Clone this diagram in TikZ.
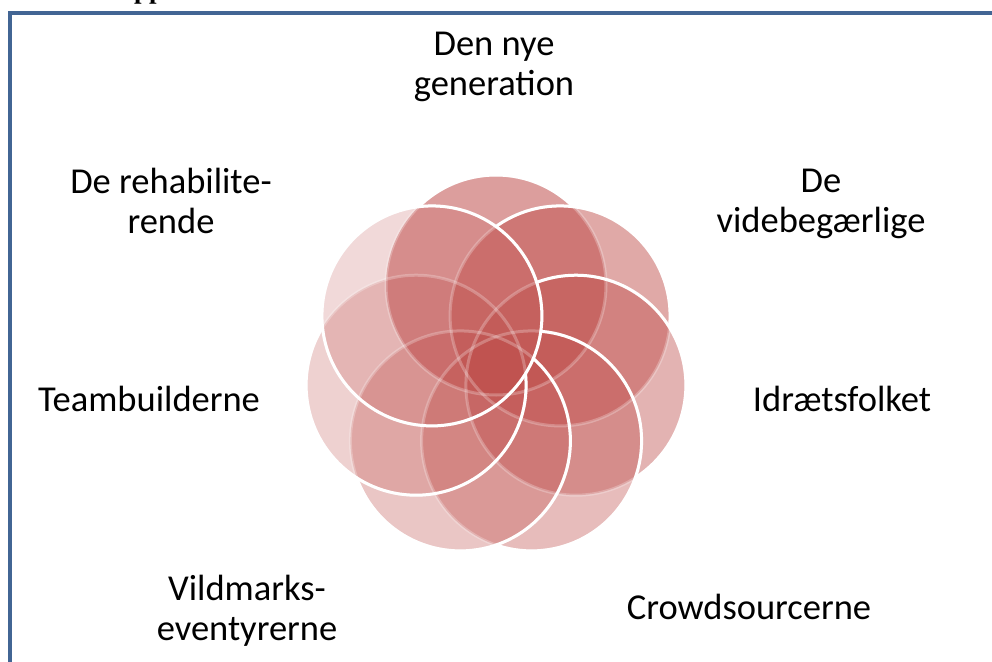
\documentclass[tikz,border=0pt]{standalone}
\usepackage{fontspec}
\setmainfont{Carlito}
\newfontfamily\headfont{Liberation Serif}
\definecolor{petalred}{RGB}{192,80,77}
\definecolor{framecol}{RGB}{66,101,148}
\newcommand{\outside}[1]{\clip (-30,-30) rectangle (1030,700) (#1) circle (110);}
\begin{document}
\begin{tikzpicture}[x=1pt,y=-1pt,
  lbl/.style={font=\fontsize{36.5}{40}\selectfont, align=center, text=black, inner sep=0pt},
  petalfill/.style={fill=petalred, fill opacity=#1},
  rim/.style={draw=white, line width=3pt},
  faintrim/.style={draw=white, line width=3pt, draw opacity=0.25},
  framerule/.style={draw=framecol, line width=3.5pt}]
\useasboundingbox (0,0) rectangle (992,661);
\fill[white] (0,0) rectangle (992,661);
% frame
\coordinate (f1) at (10,670);
\coordinate (f2) at (10,13);
\coordinate (f3) at (1000,13);
\draw[framerule] (f1) -- (f2) -- (f3);
\node[anchor=base west, inner sep=0pt, font=\headfont\bfseries\fontsize{27}{30}\selectfont] (head) at (134,-1.5) {pp};
% circle centres
\coordinate (c0) at (496,285);
\coordinate (c1) at (560.1,315.9);
\coordinate (c2) at (575.9,385.2);
\coordinate (c3) at (531.6,440.9);
\coordinate (c4) at (460.4,440.9);
\coordinate (c5) at (416.1,385.2);
\coordinate (c6) at (431.9,315.9);
\def\rr{110}
% fills
\fill[petalfill=0.55] (c0) circle (\rr);
\fill[petalfill=0.49] (c1) circle (\rr);
\fill[petalfill=0.43] (c2) circle (\rr);
\fill[petalfill=0.38] (c3) circle (\rr);
\fill[petalfill=0.32] (c4) circle (\rr);
\fill[petalfill=0.26] (c5) circle (\rr);
\fill[petalfill=0.21] (c6) circle (\rr);
% faint outlines
\foreach \c in {c0,c1,c2,c3,c4,c5,c6} \draw[faintrim] (\c) circle (\rr);
% crisp outlines: visible outside all later circles
\begin{scope}[even odd rule]
  \outside{c1}\outside{c2}\outside{c3}\outside{c4}\outside{c5}\outside{c6}
  \draw[rim] (c0) circle (\rr);
\end{scope}
\begin{scope}[even odd rule]
  \outside{c2}\outside{c3}\outside{c4}\outside{c5}\outside{c6}
  \draw[rim] (c1) circle (\rr);
\end{scope}
\begin{scope}[even odd rule]
  \outside{c3}\outside{c4}\outside{c5}\outside{c6}
  \draw[rim] (c2) circle (\rr);
\end{scope}
\begin{scope}[even odd rule]
  \outside{c4}\outside{c5}\outside{c6}
  \draw[rim] (c3) circle (\rr);
\end{scope}
\begin{scope}[even odd rule]
  \outside{c5}\outside{c6}
  \draw[rim] (c4) circle (\rr);
\end{scope}
\begin{scope}[even odd rule]
  \outside{c6}
  \draw[rim] (c5) circle (\rr);
\end{scope}
\draw[rim] (c6) circle (\rr);
% labels
\node[lbl] (t0) at (494,67) {Den nye\\generation};
\node[lbl] (t1) at (821,204) {De\\videbegærlige};
\node[lbl] (t2) at (842,399) {Idrætsfolket};
\node[lbl] (t3) at (749,607) {Crowdsourcerne};
\node[lbl] (t4) at (247,611) {Vildmarks-\\eventyrerne};
\node[lbl] (t5) at (149,399) {Teambuilderne};
\node[lbl] (t6) at (171,201) {De rehabilite-\\rende};
\end{tikzpicture}
\end{document}
